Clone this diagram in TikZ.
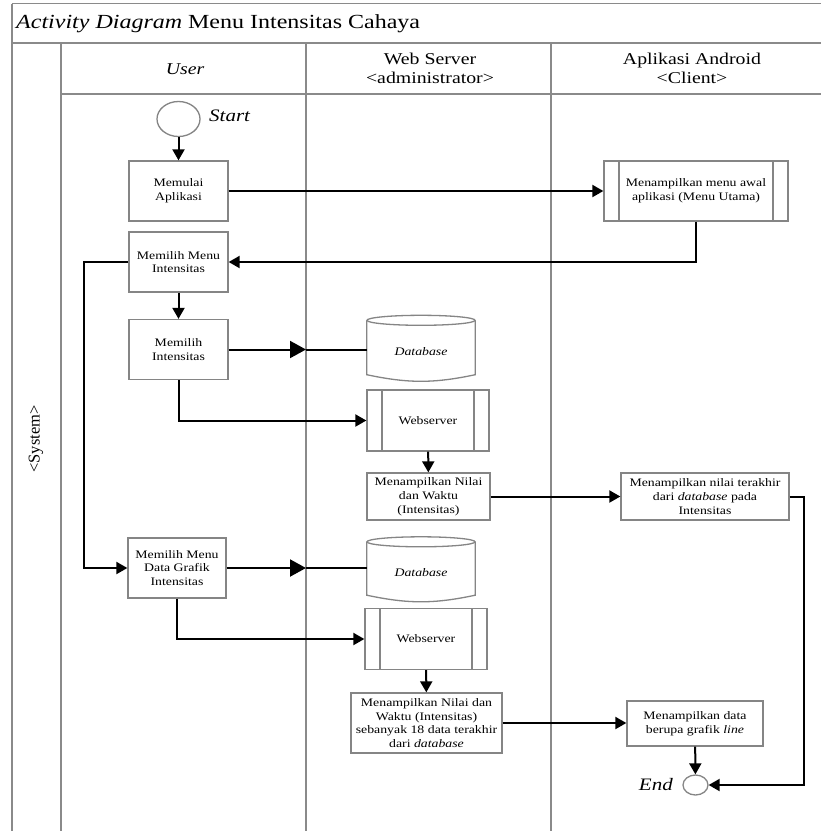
\documentclass[tikz,border=0pt]{standalone}
\usepackage{fontspec}
\setmainfont[FakeStretch=1.2]{Liberation Serif}
\newfontfamily\plainserif{Liberation Serif}
\usetikzlibrary{arrows.meta,shapes.geometric}
\definecolor{framegray}{HTML}{8A8A8A}
\definecolor{boxgray}{HTML}{858585}

\begin{document}
\begin{tikzpicture}[x=1pt,y=-1pt,
  frame/.style={draw=framegray,line width=1.5pt},
  box/.style={draw=boxgray,line width=1.3pt,fill=white,align=center,inner sep=0pt,
    font=\fontsize{11.5}{13.8}\selectfont},
  proc/.style={box,path picture={
    \draw[boxgray,line width=1.3pt]
      ([xshift=15pt]path picture bounding box.north west) -- ([xshift=15pt]path picture bounding box.south west)
      ([xshift=-15pt]path picture bounding box.north east) -- ([xshift=-15pt]path picture bounding box.south east);}},
  dbnode/.style={align=center,inner sep=0pt,font=\fontsize{11.5}{13.8}\selectfont\itshape},
  dbline/.style={draw=boxgray,line width=1.3pt},
  conn/.style={draw=black,line width=2pt,-{Triangle[length=11pt,width=12pt]}},
  bigconn/.style={draw=black,line width=2pt,-{Triangle[length=16pt,width=17pt]}},
  plainline/.style={draw=black,line width=2pt},
  term/.style={ellipse,draw=boxgray,line width=1.3pt,inner sep=0pt,fill=white},
  lanehead/.style={align=center,inner sep=0pt,font=\fontsize{16.5}{19}\selectfont},
  termtext/.style={inner sep=0pt,font=\fontsize{17.5}{20}\selectfont\itshape},
]
\fill[white] (0,0) rectangle (821,831);
\useasboundingbox (0,0) rectangle (821,831);

% swimlane frame
\coordinate (laneA) at (61,0);
\coordinate (laneB) at (306,0);
\coordinate (laneC) at (551,0);
\draw[frame] (12,3.7) -- (821,3.7);
\draw[frame] (12,43) -- (821,43);
\draw[frame] (61,94) -- (821,94);
\draw[frame] (12,3.7) -- (12,831);
\draw[frame] (laneA |- 0,43) -- (laneA |- 0,831);
\draw[frame] (laneB |- 0,43) -- (laneB |- 0,831);
\draw[frame] (laneC |- 0,43) -- (laneC |- 0,831);

% title and lane headers
\node[anchor=west,inner sep=0pt,font=\fontsize{20}{23}\selectfont] (title) at (16,24)
  {\textit{Activity Diagram} Menu Intensitas Cahaya};
\node[lanehead,font=\fontsize{16.5}{19}\selectfont\itshape] (huser) at (185,69) {User};
\node[lanehead] (hweb) at (430,68.5) {Web Server\\<administrator>};
\node[lanehead] (hand) at (692,68.5) {Aplikasi Android\\<Client>};
\node[rotate=90,inner sep=0pt,font=\plainserif\fontsize{16.5}{19}\selectfont] (system) at (36,439) {<System>};

% activities
\node[term,minimum width=43pt,minimum height=35pt] (start) at (178.5,119) {};
\node[termtext,anchor=west] (starttxt) at (209,116) {Start};
\node[box,minimum width=99pt,minimum height=60pt] (memulai) at (178.5,191) {Memulai\\Aplikasi};
\node[box,minimum width=99pt,minimum height=60pt] (pilihmenu) at (178.5,262) {Memilih Menu\\Intensitas};
\node[box,minimum width=99pt,minimum height=60pt] (pilihint) at (178.5,349.5) {Memilih\\Intensitas};
\node[box,minimum width=98pt,minimum height=60pt] (pilihgrafik) at (177,568) {Memilih Menu\\Data Grafik\\Intensitas};
\node[proc,minimum width=184pt,minimum height=60pt] (menuawal) at (696,191) {Menampilkan menu awal\\aplikasi (Menu Utama)};
\node[dbnode,minimum width=108pt,minimum height=65pt] (db1) at (421,348) {\raisebox{-7pt}[0pt][0pt]{Database}};
\node[proc,minimum width=122pt,minimum height=61pt] (ws1) at (428,420.5) {Webserver};
\node[box,minimum width=123pt,minimum height=47pt] (nilai1) at (428.5,496.5) {Menampilkan Nilai\\dan Waktu\\(Intensitas)};
\node[box,minimum width=168pt,minimum height=47pt] (terakhir) at (705,496.5) {Menampilkan nilai terakhir\\dari \textit{database} pada\\Intensitas};
\node[dbnode,minimum width=108pt,minimum height=64pt] (db2) at (421,569) {\raisebox{-7pt}[0pt][0pt]{Database}};
\node[proc,minimum width=122pt,minimum height=61pt] (ws2) at (426,639) {Webserver};
\node[box,minimum width=151pt,minimum height=60pt] (nilai2) at (426.5,723) {Menampilkan Nilai dan\\Waktu (Intensitas)\\sebanyak 18 data terakhir\\dari \textit{database}};
\node[box,minimum width=136pt,minimum height=45pt] (grafik) at (695,723.5) {Menampilkan data\\berupa grafik \textit{line}};
\node[term,minimum width=25pt,minimum height=20pt] (end) at (695.5,785) {};
\node[termtext,anchor=east] (endtxt) at (673,785) {End};

% database cylinders
\foreach \d in {db1,db2} {
  \draw[dbline] ([yshift=-5pt]\d.north west) -- ([yshift=6pt]\d.south west)
    to[bend right=12] ([yshift=6pt]\d.south east) -- ([yshift=-5pt]\d.north east);
  \draw[dbline] ([yshift=-5pt]\d.north) ellipse [x radius=54pt, y radius=5pt];
}

% flows
\draw[conn] (start) -- (memulai);
\draw[conn] (memulai.east) -- (memulai.east -| menuawal.west);
\draw[conn] (menuawal.south) |- (pilihmenu.east);
\draw[conn] (pilihmenu.west) -- ++(-44,0) |- (pilihgrafik.west);
\draw[conn] (pilihmenu) -- (pilihint);
\draw[bigconn] (pilihint.east) -- (pilihint.east -| laneB);
\draw[plainline] (pilihint.east -| laneB) -- (pilihint.east -| db1.west);
\draw[conn] (pilihint.south) |- (ws1.west);
\draw[conn] (ws1) -- (nilai1);
\draw[conn] (nilai1.east) -- (nilai1.east -| terakhir.west);
\draw[conn] (terakhir.east) -- ++(14,0) |- (end.east);
\draw[bigconn] (pilihgrafik.east) -- (pilihgrafik.east -| laneB);
\draw[plainline] (pilihgrafik.east -| laneB) -- (pilihgrafik.east -| db2.west);
\draw[conn] (pilihgrafik.south) |- (ws2.west);
\draw[conn] (ws2) -- (nilai2);
\draw[conn] (nilai2.east) -- (nilai2.east -| grafik.west);
\draw[conn] (grafik) -- (end);
\end{tikzpicture}
\end{document}
